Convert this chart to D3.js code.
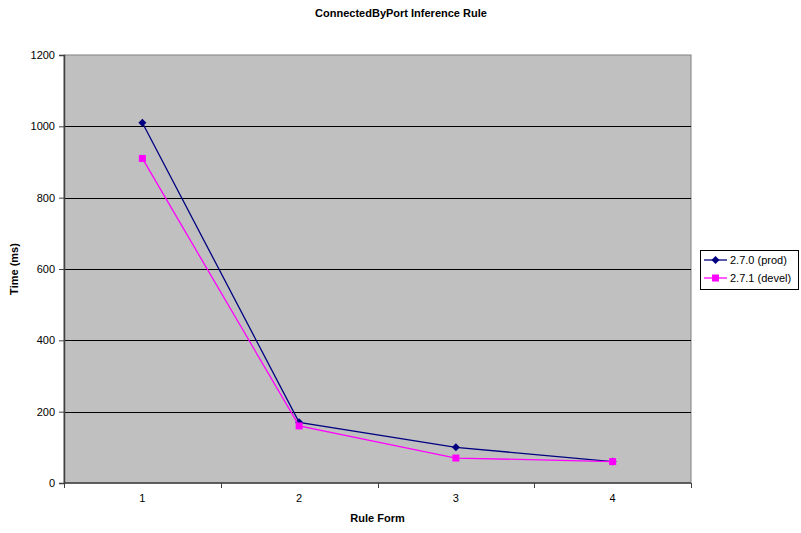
<!DOCTYPE html>
<html>
<head>
<meta charset="utf-8">
<script src="https://cdn.jsdelivr.net/npm/d3@7"></script>
<style>
  html, body { margin: 0; padding: 0; background: #ffffff; }
  svg { display: block; font-family: "Liberation Sans", Arial, sans-serif; }
</style>
</head>
<body>
<svg id="chart" width="801" height="533"></svg>
<script>
// Rule form categories and timings (ms) for each build
const ruleForms = ["1", "2", "3", "4"];
const prodTimes = [1010, 170, 100, 60];
const develTimes = [910, 160, 70, 60];
const yTicks = [0, 200, 400, 600, 800, 1000, 1200];
const seriesNames = ["2.7.0 (prod)", "2.7.1 (devel)"];

const svg = d3.select("#chart");
const plot = { left: 64, top: 55, right: 691, bottom: 483 };

const x = d3.scaleBand().domain(ruleForms).range([plot.left, plot.right]).padding(0);
const y = d3.scaleLinear().domain([0, 1200]).range([plot.bottom, plot.top]);

// Plot background
svg.append("rect")
  .attr("x", plot.left).attr("y", plot.top)
  .attr("width", plot.right - plot.left).attr("height", plot.bottom - plot.top)
  .attr("fill", "#c0c0c0").attr("stroke", "#808080").attr("stroke-width", 1);

// Horizontal gridlines
svg.append("g").selectAll("line")
  .data(yTicks.filter(d => d > 0 && d < 1200))
  .join("line")
  .attr("x1", plot.left).attr("x2", plot.right)
  .attr("y1", d => Math.round(y(d)) + 0.5).attr("y2", d => Math.round(y(d)) + 0.5)
  .attr("stroke", "#000000").attr("stroke-width", 1);

// Y axis
const yAxis = svg.append("g")
  .attr("transform", `translate(${plot.left},0)`)
  .call(d3.axisLeft(y).tickValues(yTicks).tickSize(5).tickPadding(4).tickFormat(d3.format("d")));
yAxis.select(".domain").attr("stroke", "#404040").attr("stroke-width", 1.5);
yAxis.selectAll(".tick line").attr("stroke", "#404040");
yAxis.selectAll("text").attr("font-size", 11).attr("fill", "#000").attr("font-family", "Liberation Sans, Arial, sans-serif");

// X axis: ticks at category boundaries, labels at centres
const xAxisG = svg.append("g").attr("transform", `translate(0,${plot.bottom})`);
xAxisG.append("line")
  .attr("x1", plot.left).attr("x2", plot.right).attr("y1", 0).attr("y2", 0)
  .attr("stroke", "#404040").attr("stroke-width", 1.5);
const bounds = ruleForms.map(d => x(d)).concat([x(ruleForms[ruleForms.length - 1]) + x.bandwidth()]);
xAxisG.selectAll("line.tick")
  .data(bounds)
  .join("line").attr("class", "tick")
  .attr("x1", d => Math.round(d) + 0.5).attr("x2", d => Math.round(d) + 0.5)
  .attr("y1", 0).attr("y2", 5)
  .attr("stroke", "#404040");
xAxisG.selectAll("text")
  .data(ruleForms)
  .join("text")
  .attr("x", d => x(d) + x.bandwidth() / 2)
  .attr("y", 19)
  .attr("text-anchor", "middle")
  .attr("font-size", 11)
  .text(d => d);

// Series lines and markers
const cx = d => x(d) + x.bandwidth() / 2;
const line = d3.line().x(d => cx(d.k)).y(d => y(d.v));
const prodData = ruleForms.map((k, i) => ({ k, v: prodTimes[i] }));
const develData = ruleForms.map((k, i) => ({ k, v: develTimes[i] }));

// Square-ish diamond marker (rotated square)
const diamondPath = "M0,-4L4,0L0,4L-4,0Z";

svg.append("path").datum(prodData).attr("d", line)
  .attr("fill", "none").attr("stroke", "#000080").attr("stroke-width", 1.3);
svg.append("g").selectAll("path")
  .data(prodData).join("path")
  .attr("d", diamondPath)
  .attr("transform", d => `translate(${cx(d.k)},${y(d.v)})`)
  .attr("fill", "#000080");

svg.append("path").datum(develData).attr("d", line)
  .attr("fill", "none").attr("stroke", "#ff00ff").attr("stroke-width", 1.3);
svg.append("g").selectAll("rect")
  .data(develData).join("rect")
  .attr("x", d => cx(d.k) - 3.5).attr("y", d => y(d.v) - 3.5)
  .attr("width", 7).attr("height", 7)
  .attr("fill", "#ff00ff");

// Title and axis titles
svg.append("text")
  .attr("x", 401).attr("y", 17)
  .attr("text-anchor", "middle")
  .attr("font-size", 11).attr("font-weight", "bold")
  .text("ConnectedByPort Inference Rule");

svg.append("text")
  .attr("x", x(ruleForms[0]) + (plot.right - plot.left) / 2)
  .attr("y", 522)
  .attr("text-anchor", "middle")
  .attr("font-size", 11).attr("font-weight", "bold")
  .text("Rule Form");

svg.append("text")
  .attr("transform", `translate(18,${(plot.top + plot.bottom) / 2}) rotate(-90)`)
  .attr("text-anchor", "middle")
  .attr("font-size", 11).attr("font-weight", "bold")
  .text("Time (ms)");

// Legend
const legend = svg.append("g").attr("transform", "translate(700,250)");
legend.append("rect")
  .attr("x", 0.5).attr("y", 0.5).attr("width", 98).attr("height", 39)
  .attr("fill", "#ffffff").attr("stroke", "#000000");
const legendRows = [
  { name: seriesNames[0], color: "#000080", shape: "diamond" },
  { name: seriesNames[1], color: "#ff00ff", shape: "square" }
];
legendRows.forEach((r, i) => {
  const ly = 10 + i * 18;
  legend.append("line")
    .attr("x1", 4).attr("x2", 27).attr("y1", ly).attr("y2", ly)
    .attr("stroke", r.color).attr("stroke-width", 1.3);
  if (r.shape === "diamond") {
    legend.append("path").attr("d", diamondPath)
      .attr("transform", `translate(15.5,${ly})`).attr("fill", r.color);
  } else {
    legend.append("rect")
      .attr("x", 12).attr("y", ly - 3.5).attr("width", 7).attr("height", 7)
      .attr("fill", r.color);
  }
  legend.append("text")
    .attr("x", 30).attr("y", ly + 4)
    .attr("font-size", 11)
    .text(r.name);
});
</script>
</body>
</html>
